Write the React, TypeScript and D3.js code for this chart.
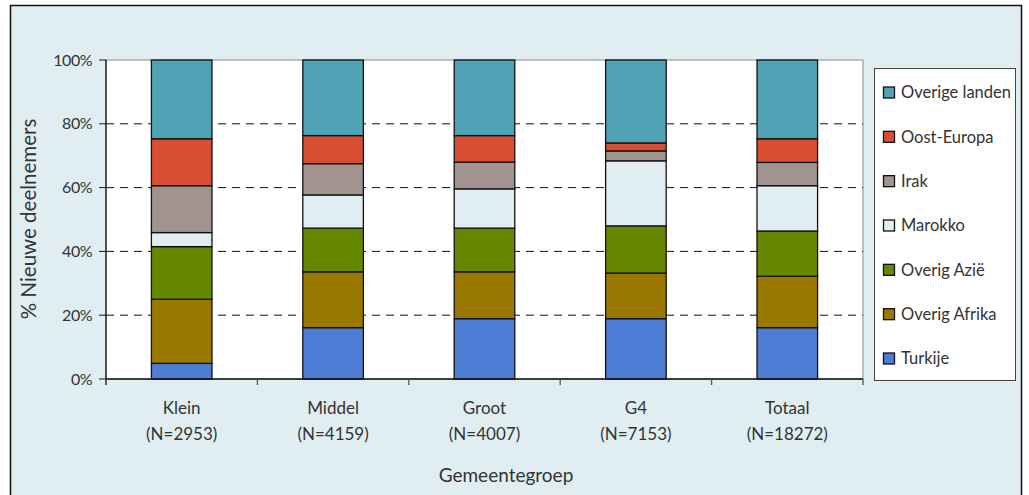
import { useRef, useEffect } from "react";
import * as d3 from "d3";

const CATEGORIES = ["Klein", "Middel", "Groot", "G4", "Totaal"];
const COUNTS = ["(N=2953)", "(N=4159)", "(N=4007)", "(N=7153)", "(N=18272)"];

// bottom to top
const SERIES = ["Turkije", "Overig Afrika", "Overig Azië", "Marokko", "Irak", "Oost-Europa", "Overige landen"];
const COLORS = ["#4e7dd6", "#9a7800", "#658800", "#e0eef2", "#a1948f", "#d94e33", "#4fa3b5"];

const TURKIJE = [4.9, 16.1, 18.9, 18.9, 16.1];
const OVERIG_AFRIKA = [20.1, 17.5, 14.7, 14.3, 16.1];
const OVERIG_AZIE = [16.5, 13.7, 13.7, 14.8, 14.2];
const MAROKKO = [4.4, 10.4, 12.3, 20.4, 14.2];
const IRAK = [14.7, 9.8, 8.4, 3.1, 7.3];
const OOST_EUROPA = [14.7, 8.8, 8.3, 2.5, 7.4];
const OVERIGE_LANDEN = [24.7, 23.7, 23.7, 26.0, 24.7];

const Y_TICKS = [0, 20, 40, 60, 80, 100];

const FONT = "Lato, 'Open Sans', sans-serif";

export default function App() {
  const svgRef = useRef<SVGSVGElement>(null);

  useEffect(() => {
    if (!svgRef.current) return;
    const svg = d3.select(svgRef.current);
    svg.selectAll("*").remove();

    const width = 1029;
    const height = 495;
    const left = 106;
    const right = 863;
    const top = 60;
    const bottom = 379;

    // panel background + frame
    svg.append("rect").attr("x", 0).attr("y", 0).attr("width", width).attr("height", height).attr("fill", "#ffffff");
    svg
      .append("rect")
      .attr("x", 10.5)
      .attr("y", 5.5)
      .attr("width", 1011)
      .attr("height", 500)
      .attr("fill", "#e0eef2")
      .attr("stroke", "#111")
      .attr("stroke-width", 1.5);

    const x = d3.scaleBand<string>().domain(CATEGORIES).range([left, right]).paddingInner(0).paddingOuter(0);
    const y = d3.scaleLinear().domain([0, 100]).range([bottom, top]);

    // plot area
    svg
      .append("rect")
      .attr("x", left)
      .attr("y", top)
      .attr("width", right - left)
      .attr("height", bottom - top)
      .attr("fill", "#ffffff")
      .attr("stroke", "#888")
      .attr("stroke-width", 1);

    // grid
    svg
      .append("g")
      .selectAll("line")
      .data(Y_TICKS.filter((t) => t > 0 && t < 100))
      .enter()
      .append("line")
      .attr("x1", left)
      .attr("x2", right)
      .attr("y1", (d) => y(d))
      .attr("y2", (d) => y(d))
      .attr("stroke", "#111")
      .attr("stroke-width", 1)
      .attr("stroke-dasharray", "8,6");

    // stacked bars
    const values = [TURKIJE, OVERIG_AFRIKA, OVERIG_AZIE, MAROKKO, IRAK, OOST_EUROPA, OVERIGE_LANDEN];
    const rows = CATEGORIES.map((c, i) => {
      const row: Record<string, number | string> = { cat: c };
      SERIES.forEach((s, j) => (row[s] = values[j][i]));
      return row;
    });
    const stack = d3.stack<Record<string, number | string>>().keys(SERIES).value((d, k) => d[k] as number);
    const stacked = stack(rows);

    const barW = x.bandwidth() * 0.4;
    stacked.forEach((layer, j) => {
      svg
        .append("g")
        .selectAll("rect")
        .data(layer)
        .enter()
        .append("rect")
        .attr("x", (d) => (x(d.data.cat as string) as number) + (x.bandwidth() - barW) / 2)
        .attr("width", barW)
        .attr("y", (d) => y(Math.min(d[1], 100)))
        .attr("height", (d) => y(d[0]) - y(Math.min(d[1], 100)))
        .attr("fill", COLORS[j])
        .attr("stroke", "#111")
        .attr("stroke-width", 1.3);
    });

    // axes lines
    svg.append("line").attr("x1", left).attr("x2", left).attr("y1", top).attr("y2", bottom + 6).attr("stroke", "#111").attr("stroke-width", 1.3);
    svg.append("line").attr("x1", left).attr("x2", right).attr("y1", bottom).attr("y2", bottom).attr("stroke", "#111").attr("stroke-width", 1.3);

    // y ticks
    const yt = svg.append("g");
    Y_TICKS.forEach((t) => {
      yt.append("line").attr("x1", left - 7).attr("x2", left).attr("y1", y(t)).attr("y2", y(t)).attr("stroke", "#111").attr("stroke-width", 1);
      yt.append("text")
        .attr("x", left - 14)
        .attr("y", y(t))
        .attr("dy", "0.35em")
        .attr("text-anchor", "end")
        .attr("font-family", FONT)
        .attr("font-size", 16)
        .attr("letter-spacing", -0.5)
        .attr("fill", "#333")
        .text(`${t}%`);
    });

    // x ticks at band boundaries
    const bounds = CATEGORIES.map((c) => x(c) as number).concat([right]);
    bounds.forEach((b) => {
      svg.append("line").attr("x1", b).attr("x2", b).attr("y1", bottom).attr("y2", bottom + 6).attr("stroke", "#555").attr("stroke-width", 1.3);
    });

    // x labels
    CATEGORIES.forEach((c, i) => {
      const cx = (x(c) as number) + x.bandwidth() / 2;
      svg.append("text").attr("x", cx).attr("y", 414).attr("text-anchor", "middle").attr("font-family", FONT).attr("font-size", 17).attr("fill", "#333").text(c);
      svg.append("text").attr("x", cx).attr("y", 440).attr("text-anchor", "middle").attr("font-family", FONT).attr("font-size", 17).attr("fill", "#333").text(COUNTS[i]);
    });

    // axis titles
    svg
      .append("text")
      .attr("x", 506)
      .attr("y", 482)
      .attr("text-anchor", "middle")
      .attr("font-family", FONT)
      .attr("font-size", 19)
      .attr("fill", "#333")
      .text("Gemeentegroep");
    svg
      .append("text")
      .attr("transform", `translate(36, 219) rotate(-90)`)
      .attr("text-anchor", "middle")
      .attr("font-family", FONT)
      .attr("font-size", 20.5)
      .attr("fill", "#333")
      .text("% Nieuwe deelnemers");

    // legend
    const lg = svg.append("g");
    lg.append("rect").attr("x", 874.5).attr("y", 68.5).attr("width", 141).attr("height", 312).attr("fill", "#ffffff").attr("stroke", "#444").attr("stroke-width", 1);
    const legendItems = SERIES.map((s, j) => ({ s, c: COLORS[j] })).reverse();
    const ly = d3.scalePoint<string>().domain(legendItems.map((d) => d.s)).range([92.5, 358.5]);
    legendItems.forEach((d) => {
      const cy = ly(d.s) as number;
      lg.append("rect").attr("x", 883.5).attr("y", cy - 5.5).attr("width", 11).attr("height", 11).attr("fill", d.c).attr("stroke", "#111").attr("stroke-width", 1.3);
      lg.append("text")
        .attr("x", 901)
        .attr("y", cy)
        .attr("dy", "0.35em")
        .attr("font-family", FONT)
        .attr("font-size", 16.5)
        .attr("fill", "#333")
        .text(d.s);
    });
  }, []);

  return (
    <div style={{ position: "absolute", left: 0, top: 0 }}>
      <svg ref={svgRef} width={1029} height={495} style={{ display: "block" }} />
    </div>
  );
}
